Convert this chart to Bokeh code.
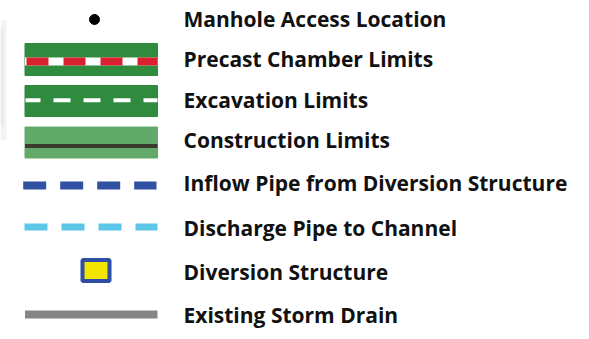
from bokeh.plotting import figure
from bokeh.models import Range1d, ColumnDataSource
from bokeh.embed import file_html
from bokeh.resources import INLINE
from bokeh.core.properties import value

# ---- legend content ----
labels = [
    "Manhole Access Location",
    "Precast Chamber Limits",
    "Excavation Limits",
    "Construction Limits",
    "Inflow Pipe from Diversion Structure",
    "Discharge Pipe to Channel",
    "Diversion Structure",
    "Existing Storm Drain",
]

# ---- layout (screen-pixel coordinates) ----
row_y = [19, 59, 100.5, 142, 185, 226.5, 270, 314]
text_base = [26.7, 66.7, 107.5, 147.7, 190.7, 235.0, 279.3, 322.7]
text_shift = -8
text_x = 183
sym_x0, sym_x1 = 24.5, 157
sym_xc = (sym_x0 + sym_x1) / 2

# ---- styles ----
GREEN = "#2f8b3e"
LIGHT_GREEN = "#62aa6a"
RED = "#d8202e"
DARK_LINE = "#3b3a30"
BLUE = "#3151a2"
LIGHT_BLUE = "#5cc6e9"
YELLOW = "#f2e500"
SQ_BLUE = "#2d4da6"
GREY = "#858585"

W, H = 589, 339
p = figure(width=W, height=H, output_backend="svg", toolbar_location=None,
           x_range=Range1d(0, W), y_range=Range1d(H, 0),
           x_axis_type=None, y_axis_type=None, min_border=0,
           background_fill_color="white", border_fill_color="white")
p.outline_line_color = None
p.grid.visible = False

# faint scan shadow at the left edge
p.quad(left=[0, 0], right=[6, 3], top=[20, 30], bottom=[140, 125],
       fill_color="#9a9a9a", fill_alpha=0.12, line_color=None)

# 1. Manhole dot
p.scatter([94], [row_y[0]], size=10, marker="circle", color="black")

# 2. Precast chamber limits
p.rect([sym_xc], [row_y[1]], width=sym_x1 - sym_x0, height=32, color=GREEN)
p.segment([sym_x0], [row_y[1] + 2], [sym_x1], [row_y[1] + 2], line_color="white", line_width=8)
p.segment([sym_x0 + 1.5], [row_y[1] + 2], [sym_x1], [row_y[1] + 2], line_color=RED,
          line_width=8, line_dash="22 15", line_cap="butt")

# 3. Excavation limits
p.rect([sym_xc], [row_y[2]], width=sym_x1 - sym_x0, height=31, color=GREEN)
p.segment([sym_x0 + 0.5], [row_y[2] - 0.8], [sym_x1], [row_y[2] - 0.8], line_color="white",
          line_width=4, line_dash="17 13", line_dash_offset=2, line_cap="butt")

# 4. Construction limits
p.rect([sym_xc], [row_y[3]], width=sym_x1 - sym_x0, height=31, color=LIGHT_GREEN)
p.segment([sym_x0], [145.5], [sym_x1], [145.5], line_color=DARK_LINE, line_width=4)

# 5. Inflow pipe
p.segment([22.7], [row_y[4]], [156], [row_y[4]], line_color=BLUE, line_width=8,
          line_dash="23 14", line_cap="butt")

# 6. Discharge pipe
p.segment([24], [row_y[5]], [157], [row_y[5]], line_color=LIGHT_BLUE, line_width=7,
          line_dash="23 14", line_cap="butt")

# 7. Diversion structure
p.rect([95.5], [row_y[6]], width=27, height=21, fill_color=YELLOW,
       line_color=SQ_BLUE, line_width=4)

# 8. Existing storm drain
p.segment([sym_x0], [row_y[7]], [sym_x1], [row_y[7]], line_color=GREY, line_width=8)

src = ColumnDataSource(dict(x=[text_x] * len(labels),
                            y=[b + text_shift for b in text_base], t=labels))
p.text(x="x", y="y", text="t", source=src, text_font=value("Open Sans"),
       text_font_style="bold", text_font_size="21px", text_color="#111111",
       text_baseline="alphabetic", text_align="left")

open("out.html", "w").write(file_html(p, INLINE))
